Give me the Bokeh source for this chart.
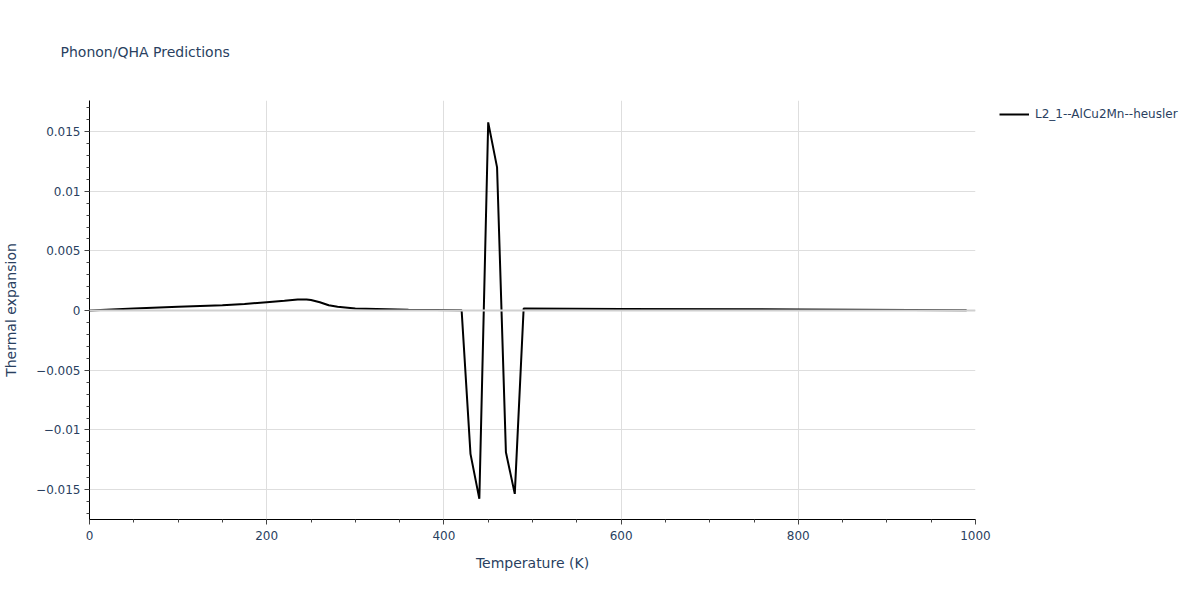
from bokeh.plotting import figure
from bokeh.models import (Legend, LegendItem, CustomJSTickFormatter, FixedTicker,
                          Range1d, Span, Title)
from bokeh.embed import file_html
from bokeh.resources import INLINE

# Data
temperature = [0, 50, 100, 150, 175, 200, 220, 235, 245, 250, 260, 270, 280, 300,
               360, 420, 430, 440, 450, 460, 470, 480, 490, 600, 800, 990]
thermal_expansion = [0.0, 0.00018, 0.00032, 0.00045, 0.00055, 0.0007, 0.00082,
                     0.00093, 0.00092, 0.00088, 0.0007, 0.00045, 0.00032, 0.00017,
                     0.00008, 0.00003, -0.0120, -0.01577, 0.01577, 0.0120,
                     -0.01187, -0.01535, 0.00017, 0.00014, 0.0001, 0.00003]
series_name = "L2_1--AlCu2Mn--heusler"
title_text = "Phonon/QHA Predictions"
x_ticks = [0, 200, 400, 600, 800, 1000]
y_ticks = [-0.015, -0.01, -0.005, 0, 0.005, 0.01, 0.015]

FONT = "DejaVu Sans"
TXT = "#2a3f5f"

p = figure(frame_width=886, frame_height=419, output_backend="svg",
           toolbar_location=None,
           x_range=Range1d(0, 1000), y_range=Range1d(-0.0175, 0.0176),
           min_border_left=82, min_border_right=216, min_border_top=100,
           min_border_bottom=62)
p.title = Title(text=title_text, text_font=FONT, text_font_size="14px",
                text_color=TXT, text_font_style="normal", offset=-29, standoff=81)
p.outline_line_color = None

r = p.line(temperature, thermal_expansion, line_color="black", line_width=2)

for ax in (p.xaxis[0], p.yaxis[0]):
    ax.axis_line_color = "black"
    ax.axis_line_width = 1
    ax.major_tick_line_color = "#444444"
    ax.minor_tick_line_color = "#444444"
    ax.major_tick_out = 5
    ax.major_tick_in = 0
    ax.minor_tick_out = 3
    ax.minor_tick_in = 0
    ax.major_label_text_font = FONT
    ax.major_label_text_font_size = "12px"
    ax.major_label_text_color = TXT
    ax.axis_label_text_font = FONT
    ax.axis_label_text_font_size = "14px"
    ax.axis_label_text_color = TXT
    ax.axis_label_text_font_style = "normal"

p.xaxis.ticker = FixedTicker(ticks=x_ticks, minor_ticks=list(range(0, 1001, 50)))
p.yaxis.ticker = FixedTicker(ticks=y_ticks,
                             minor_ticks=[i / 1000 for i in range(-17, 18)])
p.yaxis.formatter = CustomJSTickFormatter(code="""
    if (Math.abs(tick) < 1e-12) return "0";
    var s = parseFloat(tick.toFixed(6)).toString();
    return s.replace("-", "\u2212");
""")
p.xaxis.axis_label = "Temperature (K)"
p.yaxis.axis_label = "Thermal expansion"
p.xaxis.axis_label_standoff = 12
p.yaxis.axis_label_standoff = 14
p.xaxis.major_label_standoff = 6
p.yaxis.major_label_standoff = 4

p.xgrid.ticker = FixedTicker(ticks=x_ticks)
p.ygrid.ticker = FixedTicker(ticks=y_ticks)
p.xgrid.grid_line_color = "#dedede"
p.ygrid.grid_line_color = "#dedede"
p.ygrid.grid_line_width = 1
p.add_layout(Span(location=0, dimension="width", line_color="#d0d0d0", line_width=2))

legend = Legend(items=[LegendItem(label=series_name, renderers=[r])],
                location=(24, 397), margin=0, padding=0,
                border_line_color=None, background_fill_alpha=0,
                label_text_font=FONT, label_text_font_size="12px",
                label_text_color=TXT, glyph_width=30, label_standoff=6,
                glyph_height=16)
p.add_layout(legend, "right")

open("out.html", "w").write(file_html(p, INLINE))
